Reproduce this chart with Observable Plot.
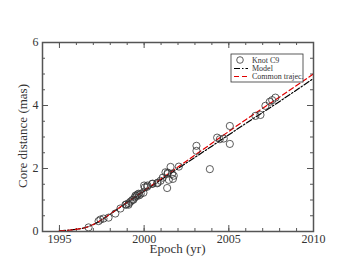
<!DOCTYPE html>
<html><head><meta charset="utf-8">
<script src="https://cdn.jsdelivr.net/npm/d3@7"></script>
<script src="https://cdn.jsdelivr.net/npm/@observablehq/plot@0.6"></script>
<style>
html,body{margin:0;padding:0;background:#fff;}
#chart{position:relative;width:353px;height:273px;}
#chart svg, #chart svg text{font-family:"Liberation Serif","Times New Roman",serif !important;font-weight:normal;}
</style>
</head><body><div id="chart"></div>
<script>
// Knot C9 observations
const epochs = [1996.72,1997.31,1997.42,1997.6,1997.9,1998.3,1998.6,1998.9,1998.95,1999.08,1999.1,1999.2,1999.3,1999.37,1999.45,1999.49,1999.55,1999.6,1999.67,1999.72,1999.8,1999.96,2000.0,2000.04,2000.18,2000.2,2000.47,2000.5,2000.77,2000.8,2000.97,2001.1,2001.26,2001.36,2001.38,2001.4,2001.46,2001.56,2001.65,2001.7,2001.75,2002.05,2003.09,2003.09,2003.88,2004.31,2004.47,2004.7,2005.06,2005.06,2006.57,2006.87,2007.16,2007.42,2007.56,2007.75];
const distances = [0.13,0.33,0.38,0.41,0.44,0.57,0.73,0.85,0.86,0.85,0.9,0.95,1.0,1.01,1.08,1.14,1.12,1.17,1.2,1.15,1.2,1.23,1.46,1.40,1.42,1.46,1.51,1.52,1.53,1.55,1.61,1.71,1.88,1.38,1.83,1.87,1.64,2.05,1.83,1.67,1.77,2.06,2.72,2.56,1.98,2.98,2.93,2.95,3.35,2.78,3.67,3.70,3.99,4.12,4.17,4.25];
// Model curve
const modelEpochs = [1995,1995.5,1996,1996.5,1997,1997.5,1998,1999,2000,2002,2004,2006,2008,2010];
const modelDist =   [0.02,0.04,0.07,0.12,0.22,0.37,0.55,0.92,1.28,2.0,2.71,3.43,4.13,4.86];
// Common trajectory
const trajEpochs = [1995,1995.5,1996,1996.5,1997,1997.5,1998,1999,2000,2002,2004,2006,2008,2010];
const trajDist =   [0.02,0.04,0.07,0.12,0.22,0.38,0.56,0.93,1.3,2.05,2.8,3.55,4.27,5.0];
// ticks
const xMajor = [1995,2000,2005,2010];
const xMinor = d3.range(1994,2011,1);
const yMajor = [0,2,4,6];
const yMinor = d3.range(0,6.01,0.5);

const pts = epochs.map((e,i)=>({e, d: distances[i]}));
const model = modelEpochs.map((e,i)=>({e, d: modelDist[i]}));
const traj = trajEpochs.map((e,i)=>({e, d: trajDist[i]}));

const axisCol = "#555";
const textCol = "#333";
const font = "'Liberation Serif', 'Times New Roman', serif";

const plot = Plot.plot({
  width: 353, height: 273,
  marginLeft: 42, marginRight: 40, marginTop: 42, marginBottom: 42,
  style: {fontFamily: font, fontSize: "12px", background: "white", color: textCol},
  x: {domain: [1994, 2010]},
  y: {domain: [0, 6]},
  marks: [
    Plot.axisX({ticks: xMajor, tickSize: 0, tickPadding: 3, tickFormat: d => String(d), label: null, fontSize: 12}),
    Plot.axisY({ticks: yMajor, tickSize: 0, tickPadding: 4, tickFormat: d => String(d), label: null, fontSize: 12}),
    // inward ticks: bottom
    Plot.ruleX(xMinor, {x: d => d, y1: 0, y2: 0, insetBottom: 3, stroke: axisCol}),
    Plot.ruleX(xMajor, {x: d => d, y1: 0, y2: 0, insetBottom: 6, stroke: axisCol}),
    // top
    Plot.ruleX(xMinor, {x: d => d, y1: 6, y2: 6, insetBottom: -3, stroke: axisCol}),
    Plot.ruleX(xMajor, {x: d => d, y1: 6, y2: 6, insetBottom: -6, stroke: axisCol}),
    // left
    Plot.ruleY(yMinor, {y: d => d, x1: 1994, x2: 1994, insetRight: -3, stroke: axisCol}),
    Plot.ruleY(yMajor, {y: d => d, x1: 1994, x2: 1994, insetRight: -6, stroke: axisCol}),
    // right
    Plot.ruleY(yMinor, {y: d => d, x1: 2010, x2: 2010, insetLeft: -3, stroke: axisCol}),
    Plot.ruleY(yMajor, {y: d => d, x1: 2010, x2: 2010, insetLeft: -6, stroke: axisCol}),
    Plot.line(model, {x: "e", y: "d", stroke: "black", strokeWidth: 1.2, strokeDasharray: "6,2,1.5,2", curve: "monotone-x"}),
    Plot.line(traj, {x: "e", y: "d", stroke: "#e00000", strokeWidth: 1.2, strokeDasharray: "5,3", curve: "monotone-x"}),
    Plot.dot(pts, {x: "e", y: "d", r: 3.6, stroke: "#333", strokeWidth: 0.8, fill: "none"}),
    Plot.frame({stroke: axisCol, strokeWidth: 1.5})
  ]
});

const holder = document.getElementById("chart");
holder.appendChild(plot);
const svg = d3.select(plot);

// axis titles
svg.append("text").attr("x", 177.5).attr("y", 253).attr("text-anchor","middle")
  .attr("font-size", 13).attr("fill",textCol).text("Epoch (yr)");
svg.append("text").attr("transform","translate(22,136) rotate(-90)").attr("text-anchor","middle")
  .attr("dy","0.35em")
  .attr("font-size", 13).attr("fill",textCol).text("Core distance (mas)");

// legend
const lg = svg.append("g").attr("font-size", 8).attr("fill",textCol).attr("text-anchor","start");
lg.append("rect").attr("x",231).attr("y",54).attr("width",72).attr("height",28)
  .attr("fill","white").attr("stroke","#333").attr("stroke-width",0.8);
lg.append("circle").attr("cx",240).attr("cy",60).attr("r",3.3).attr("fill","none").attr("stroke","#333").attr("stroke-width",0.8);
lg.append("line").attr("x1",234).attr("x2",248).attr("y1",68.5).attr("y2",68.5).attr("stroke","black").attr("stroke-width",1.2).attr("stroke-dasharray","6,2,1.5,2");
lg.append("line").attr("x1",234).attr("x2",248).attr("y1",76.5).attr("y2",76.5).attr("stroke","#e00000").attr("stroke-width",1.2).attr("stroke-dasharray","5,3");
lg.append("text").attr("x",252).attr("y",62.8).text("Knot C9");
lg.append("text").attr("x",252).attr("y",71.3).text("Model");
lg.append("text").attr("x",252).attr("y",79.3).text("Common trajec.");
</script>
</body></html>
